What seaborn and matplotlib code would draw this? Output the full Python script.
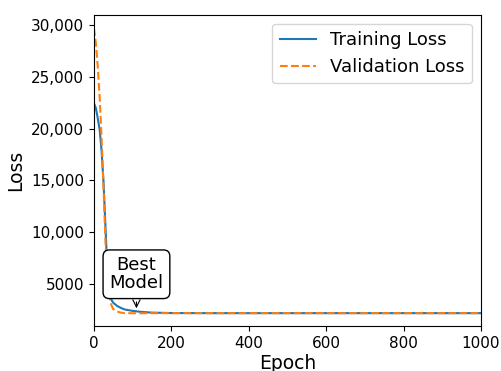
import numpy as np
import pandas as pd
import matplotlib
matplotlib.use("Agg")
import matplotlib.pyplot as plt
import seaborn as sns

# values
epochs = [0, 5, 10, 15, 20, 25, 30, 35, 40, 45, 50, 60, 70, 80, 100, 120,
          150, 200, 300, 400, 500, 600, 700, 800, 900, 1000]
train_loss = [22450, 22000, 21000, 19900, 17800, 14800, 10500, 6200, 4200,
              3500, 3200, 2900, 2700, 2550, 2420, 2330, 2250, 2210, 2200,
              2200, 2200, 2200, 2200, 2200, 2200, 2200]
val_loss = [29700, 28300, 26000, 23000, 19000, 14300, 9000, 5700, 3900,
            3000, 2600, 2350, 2250, 2200, 2190, 2195, 2200, 2200, 2200,
            2200, 2200, 2200, 2200, 2200, 2200, 2200]
best_epoch = 110
best_loss = 2400
yticks = [5000, 10000, 15000, 20000, 25000, 30000]
ytick_labels = ["5000", "10,000", "15,000", "20,000", "25,000", "30,000"]
xticks = [0, 200, 400, 600, 800, 1000]

df = pd.DataFrame({"Epoch": epochs, "Training Loss": train_loss,
                   "Validation Loss": val_loss})

fig, ax = plt.subplots(figsize=(5.02, 3.71), dpi=100)
fig.subplots_adjust(left=0.187, right=0.958, top=0.960, bottom=0.121)

sns.lineplot(data=df, x="Epoch", y="Training Loss", ax=ax, color="#1f77b4",
             label="Training Loss", lw=1.5)
sns.lineplot(data=df, x="Epoch", y="Validation Loss", ax=ax, color="#ff7f0e",
             label="Validation Loss", lw=1.5, linestyle="--")

ax.annotate("Best\nModel", xy=(best_epoch, best_loss), xytext=(best_epoch, 5950),
            ha="center", va="center", fontsize=13, linespacing=1.0,
            bbox=dict(boxstyle="round,pad=0.35", fc="white", ec="black"),
            arrowprops=dict(arrowstyle="->", color="black", lw=0.8))

ax.set_xlim(0, 1000)
ax.set_ylim(950, 30970)
ax.set_xticks(xticks)
ax.set_yticks(yticks)
ax.set_yticklabels(ytick_labels)
ax.tick_params(labelsize=11)
ax.set_xlabel("Epoch", fontsize=13.5, labelpad=2)
ax.set_ylabel("Loss", fontsize=13.5)
ax.legend(loc="upper right", fontsize=13)

fig.savefig("out.png", dpi=100)
